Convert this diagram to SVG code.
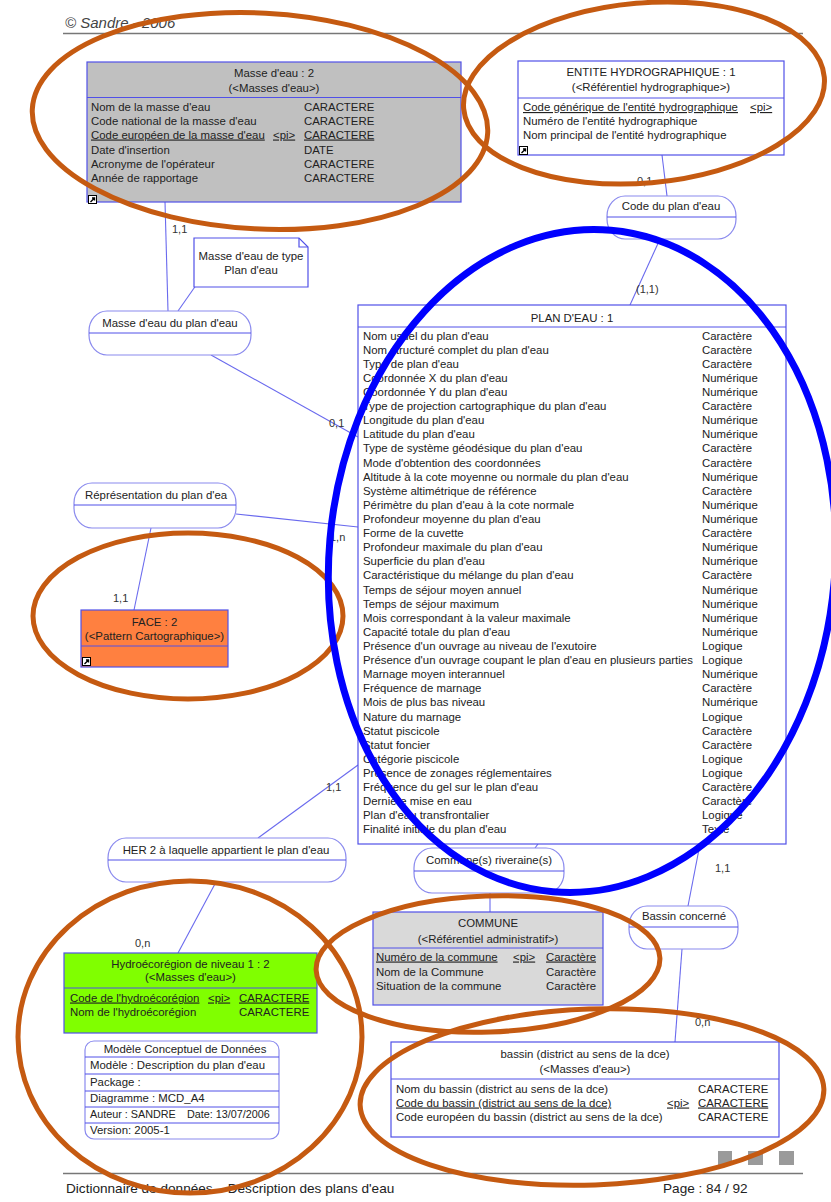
<svg xmlns="http://www.w3.org/2000/svg" width="831" height="1202" viewBox="0 0 831 1202">
<style>
text{font-family:"Liberation Sans",Arial,sans-serif;font-size:11.4px;fill:#222}
.c{text-anchor:middle}
.u{text-decoration:underline}
.ent{stroke:#5050e8;stroke-width:1.2}
.sep{stroke:#5050e8;stroke-width:1}
.asso{fill:#fff;stroke:#8a8aee;stroke-width:1.2}
.link{stroke:#6a6aee;stroke-width:1.1;fill:none}
.card{font-size:11px;fill:#333}
.ring{fill:none;stroke:#c55a11;stroke-width:5}
.blue{fill:none;stroke:#0000ff;stroke-width:7}
.foot{font-size:13.6px}
</style>
<defs>
<symbol id="ico" viewBox="0 0 9 9">
<rect x="0.5" y="0.5" width="8" height="8" fill="#fff" stroke="#000" stroke-width="1"/>
<path d="M2.5 7 L6 3.5 M4 3 H6.5 V5.5" stroke="#000" stroke-width="1.4" fill="none"/>
</symbol>
<clipPath id="clipRep"><rect x="74" y="483" width="155" height="22"/></clipPath>
</defs>
<rect width="831" height="1202" fill="#fff"/>

<g id="header">
<text x="65" y="28" style="font-size:15px;font-style:italic;fill:#444">© Sandre - 2006</text>
<line x1="63" y1="33.5" x2="803" y2="33.5" stroke="#777" stroke-width="1.5"/>
</g>

<g id="connectors">
<line class="link" x1="165" y1="202" x2="168" y2="311"/>
<line class="link" x1="213" y1="261" x2="178" y2="311"/>
<line class="link" x1="211" y1="355" x2="358" y2="437"/>
<line class="link" x1="662" y1="155" x2="667" y2="196"/>
<line class="link" x1="660" y1="239" x2="630" y2="305"/>
<line class="link" x1="236" y1="514" x2="358" y2="527"/>
<line class="link" x1="151" y1="528" x2="134" y2="610"/>
<line class="link" x1="358" y1="765" x2="258" y2="838"/>
<line class="link" x1="216" y1="882" x2="178" y2="953"/>
<line class="link" x1="538" y1="844" x2="535" y2="848"/>
<line class="link" x1="490" y1="893" x2="490" y2="912"/>
<line class="link" x1="700" y1="844" x2="688" y2="906"/>
<line class="link" x1="682" y1="949" x2="675" y2="1042"/>
<text class="card" x="172" y="233">1,1</text>
<text class="card" x="329" y="427">0,1</text>
<text class="card" x="637" y="185">0,1</text>
<text class="card" x="636" y="293">(1,1)</text>
<text class="card" x="330" y="541">1,n</text>
<text class="card" x="113" y="602">1,1</text>
<text class="card" x="326" y="791">1,1</text>
<text class="card" x="135" y="947">0,n</text>
<text class="card" x="715" y="872">1,1</text>
<text class="card" x="695" y="1026">0,n</text>
</g>

<g id="masse-eau">
<rect class="ent" x="87" y="62" width="374" height="140" fill="#c0c0c0"/>
<line class="sep" x1="87" y1="97.5" x2="461" y2="97.5"/>
<text class="c" x="274" y="76.5">Masse d'eau : 2</text>
<text class="c" x="274" y="92">(&lt;Masses d'eau&gt;)</text>
<text x="91" y="110.5">Nom de la masse d'eau</text><text x="304" y="110.5">CARACTERE</text>
<text x="91" y="124.5">Code national de la masse d'eau</text><text x="304" y="124.5">CARACTERE</text>
<text x="91" y="138.5" class="u">Code européen de la masse d'eau</text><text x="273" y="138.5" class="u">&lt;pi&gt;</text><text x="304" y="138.5" class="u">CARACTERE</text>
<text x="91" y="154">Date d'insertion</text><text x="304" y="154">DATE</text>
<text x="91" y="167.5">Acronyme de l'opérateur</text><text x="304" y="167.5">CARACTERE</text>
<text x="91" y="181.5">Année de rapportage</text><text x="304" y="181.5">CARACTERE</text>
<use href="#ico" x="88" y="195" width="9" height="9"/>
</g>

<g id="entite-hydro">
<rect class="ent" x="518" y="61" width="266" height="94" fill="#fff"/>
<line class="sep" x1="518" y1="98" x2="784" y2="98"/>
<text class="c" x="651" y="75.5">ENTITE HYDROGRAPHIQUE : 1</text>
<text class="c" x="651" y="91">(&lt;Référentiel hydrographique&gt;)</text>
<text x="523" y="111" class="u">Code générique de l'entité hydrographique</text><text x="750" y="111" class="u">&lt;pi&gt;</text>
<text x="523" y="125">Numéro de l'entité hydrographique</text>
<text x="523" y="139">Nom principal de l'entité hydrographique</text>
<use href="#ico" x="519" y="146" width="9" height="9"/>
</g>

<g id="note-masse">
<path d="M194 238 H299 L308 247 V287 H194 Z" fill="#fff" stroke="#5050e8" stroke-width="1.2"/>
<path d="M299 238 V247 H308" fill="none" stroke="#5050e8" stroke-width="1.2"/>
<text class="c" x="251" y="260">Masse d'eau de type</text>
<text class="c" x="251" y="274">Plan d'eau</text>
</g>

<g id="asso-masse-plan">
<rect class="asso" x="89" y="311" width="162" height="44" rx="18" ry="20"/>
<line class="sep" x1="89" y1="333" x2="251" y2="333" stroke="#8a8aee"/>
<text class="c" x="170" y="326.5">Masse d'eau du plan d'eau</text>
</g>

<g id="asso-code-plan">
<rect class="asso" x="607" y="196" width="129" height="43" rx="18" ry="20"/>
<line class="sep" x1="607" y1="217" x2="736" y2="217" stroke="#8a8aee"/>
<text class="c" x="671" y="210">Code du plan d'eau</text>
</g>

<g id="plan-eau">
<rect class="ent" x="358" y="305" width="428" height="539" fill="#fff"/>
<line class="sep" x1="358" y1="327" x2="786" y2="327"/>
<text class="c" x="572" y="322">PLAN D'EAU : 1</text>
<g>
<text x="363" y="339.5">Nom usuel du plan d'eau</text><text x="702" y="339.5">Caractère</text>
<text x="363" y="353.6">Nom structuré complet du plan d'eau</text><text x="702" y="353.6">Caractère</text>
<text x="363" y="367.7">Type de plan d'eau</text><text x="702" y="367.7">Caractère</text>
<text x="363" y="381.8">Coordonnée X du plan d'eau</text><text x="702" y="381.8">Numérique</text>
<text x="363" y="395.9">Coordonnée Y du plan d'eau</text><text x="702" y="395.9">Numérique</text>
<text x="363" y="410.1">Type de projection cartographique du plan d'eau</text><text x="702" y="410.1">Caractère</text>
<text x="363" y="424.2">Longitude du plan d'eau</text><text x="702" y="424.2">Numérique</text>
<text x="363" y="438.3">Latitude du plan d'eau</text><text x="702" y="438.3">Numérique</text>
<text x="363" y="452.4">Type de système géodésique du plan d'eau</text><text x="702" y="452.4">Caractère</text>
<text x="363" y="466.5">Mode d'obtention des coordonnées</text><text x="702" y="466.5">Caractère</text>
<text x="363" y="480.6">Altitude à la cote moyenne ou normale du plan d'eau</text><text x="702" y="480.6">Numérique</text>
<text x="363" y="494.7">Système altimétrique de référence</text><text x="702" y="494.7">Caractère</text>
<text x="363" y="508.8">Périmètre du plan d'eau à la cote normale</text><text x="702" y="508.8">Numérique</text>
<text x="363" y="522.9">Profondeur moyenne du plan d'eau</text><text x="702" y="522.9">Numérique</text>
<text x="363" y="537">Forme de la cuvette</text><text x="702" y="537">Caractère</text>
<text x="363" y="551.1">Profondeur maximale du plan d'eau</text><text x="702" y="551.1">Numérique</text>
<text x="363" y="565.3">Superficie du plan d'eau</text><text x="702" y="565.3">Numérique</text>
<text x="363" y="579.4">Caractéristique du mélange du plan d'eau</text><text x="702" y="579.4">Caractère</text>
<text x="363" y="593.5">Temps de séjour moyen annuel</text><text x="702" y="593.5">Numérique</text>
<text x="363" y="607.6">Temps de séjour maximum</text><text x="702" y="607.6">Numérique</text>
<text x="363" y="621.7">Mois correspondant à la valeur maximale</text><text x="702" y="621.7">Numérique</text>
<text x="363" y="635.8">Capacité totale du plan d'eau</text><text x="702" y="635.8">Numérique</text>
<text x="363" y="649.9">Présence d'un ouvrage au niveau de l'exutoire</text><text x="702" y="649.9">Logique</text>
<text x="363" y="664">Présence d'un ouvrage coupant le plan d'eau en plusieurs parties</text><text x="702" y="664">Logique</text>
<text x="363" y="678.1">Marnage moyen interannuel</text><text x="702" y="678.1">Numérique</text>
<text x="363" y="692.2">Fréquence de marnage</text><text x="702" y="692.2">Caractère</text>
<text x="363" y="706.4">Mois de plus bas niveau</text><text x="702" y="706.4">Numérique</text>
<text x="363" y="720.5">Nature du marnage</text><text x="702" y="720.5">Logique</text>
<text x="363" y="734.6">Statut piscicole</text><text x="702" y="734.6">Caractère</text>
<text x="363" y="748.7">Statut foncier</text><text x="702" y="748.7">Caractère</text>
<text x="363" y="762.8">Catégorie piscicole</text><text x="702" y="762.8">Logique</text>
<text x="363" y="776.9">Présence de zonages réglementaires</text><text x="702" y="776.9">Logique</text>
<text x="363" y="791">Fréquence du gel sur le plan d'eau</text><text x="702" y="791">Caractère</text>
<text x="363" y="805.1">Dernière mise en eau</text><text x="702" y="805.1">Caractère</text>
<text x="363" y="819.2">Plan d'eau transfrontalier</text><text x="702" y="819.2">Logique</text>
<text x="363" y="833.3">Finalité initiale du plan d'eau</text><text x="702" y="833.3">Texte</text>
</g>
</g>

<g id="asso-representation">
<rect class="asso" x="74" y="483" width="162" height="45" rx="18" ry="20"/>
<line class="sep" x1="74" y1="505" x2="236" y2="505" stroke="#8a8aee"/>
<text x="85" y="498.5" clip-path="url(#clipRep)">Réprésentation du plan d'ea</text>
</g>

<g id="face">
<rect class="ent" x="81" y="610" width="147" height="57" fill="#ff8040"/>
<line class="sep" x1="81" y1="646" x2="228" y2="646"/>
<text class="c" x="154.5" y="625.5">FACE : 2</text>
<text class="c" x="154.5" y="639.5">(&lt;Pattern Cartographique&gt;)</text>
<use href="#ico" x="82" y="657" width="9" height="9"/>
</g>

<g id="asso-her">
<rect class="asso" x="108" y="838" width="238" height="44" rx="18" ry="20"/>
<line class="sep" x1="108" y1="860" x2="346" y2="860" stroke="#8a8aee"/>
<text class="c" x="226" y="853.5">HER 2 à laquelle appartient le plan d'eau</text>
</g>

<g id="hydroecoregion">
<rect class="ent" x="64" y="953" width="253" height="80" fill="#80ff00"/>
<line class="sep" x1="64" y1="988" x2="317" y2="988"/>
<text class="c" x="190.5" y="968">Hydroécorégion de niveau 1 : 2</text>
<text class="c" x="190.5" y="981">(&lt;Masses d'eau&gt;)</text>
<text x="70" y="1001.5" class="u">Code de l'hydroécorégion</text><text x="208" y="1001.5" class="u">&lt;pi&gt;</text><text x="239" y="1001.5" class="u">CARACTERE</text>
<text x="70" y="1016">Nom de l'hydroécorégion</text><text x="239" y="1016">CARACTERE</text>
</g>

<g id="mcd-info">
<rect x="85" y="1041" width="194" height="98" rx="9" ry="9" fill="#fff" stroke="#8a8aee" stroke-width="1.2"/>
<line class="sep" x1="85" y1="1057" x2="279" y2="1057"/>
<line class="sep" x1="85" y1="1074" x2="279" y2="1074"/>
<line class="sep" x1="85" y1="1091" x2="279" y2="1091"/>
<line class="sep" x1="85" y1="1107" x2="279" y2="1107"/>
<line class="sep" x1="85" y1="1123" x2="279" y2="1123"/>
<text class="c" x="185" y="1053">Modèle Conceptuel de Données</text>
<text x="90" y="1068.5">Modèle : Description du plan d'eau</text>
<text x="90" y="1085.5">Package :</text>
<text x="90" y="1101.5">Diagramme : MCD_A4</text>
<text x="90" y="1117.5" style="font-size:10.8px">Auteur : SANDRE<tspan x="187">Date: 13/07/2006</tspan></text>
<text x="90" y="1133.5">Version: 2005-1</text>
</g>

<g id="asso-communes">
<rect class="asso" x="414" y="848" width="150" height="45" rx="18" ry="20"/>
<line class="sep" x1="414" y1="871" x2="564" y2="871" stroke="#8a8aee"/>
<text class="c" x="489" y="863.5">Commune(s) riveraine(s)</text>
</g>

<g id="commune">
<rect class="ent" x="373" y="912" width="230" height="93" fill="#d9d9d9"/>
<line class="sep" x1="373" y1="948" x2="603" y2="948"/>
<text class="c" x="488" y="926.5">COMMUNE</text>
<text class="c" x="488" y="942.5">(&lt;Référentiel administratif&gt;)</text>
<text x="376" y="960.5" class="u">Numéro de la commune</text><text x="513" y="960.5" class="u">&lt;pi&gt;</text><text x="546" y="960.5" class="u">Caractère</text>
<text x="376" y="976">Nom de la Commune</text><text x="546" y="976">Caractère</text>
<text x="376" y="989.5">Situation de la commune</text><text x="546" y="989.5">Caractère</text>
</g>

<g id="asso-bassin">
<rect class="asso" x="629" y="906" width="109" height="43" rx="18" ry="20"/>
<line class="sep" x1="629" y1="927" x2="738" y2="927" stroke="#8a8aee"/>
<text class="c" x="684" y="920">Bassin concerné</text>
</g>

<g id="bassin">
<rect class="ent" x="391" y="1042" width="388" height="95" fill="#fff"/>
<line class="sep" x1="391" y1="1079" x2="779" y2="1079"/>
<text class="c" x="585" y="1057.5">bassin (district au sens de la dce)</text>
<text class="c" x="585" y="1072.5">(&lt;Masses d'eau&gt;)</text>
<text x="396" y="1092.5">Nom du bassin (district au sens de la dce)</text><text x="698" y="1092.5">CARACTERE</text>
<text x="396" y="1106.5" class="u">Code du bassin (district au sens de la dce)</text><text x="667" y="1106.5" class="u">&lt;pi&gt;</text><text x="698" y="1106.5" class="u">CARACTERE</text>
<text x="396" y="1121">Code européen du bassin (district au sens de la dce)</text><text x="698" y="1121">CARACTERE</text>
</g>

<g id="footer">
<rect x="718" y="1151" width="14" height="14" fill="#9a9a9a"/>
<rect x="748" y="1151" width="15" height="14" fill="#9a9a9a"/>
<rect x="779" y="1151" width="15" height="14" fill="#9a9a9a"/>
<line x1="63" y1="1173.5" x2="803" y2="1173.5" stroke="#777" stroke-width="1.5"/>
<text x="66" y="1193" class="foot">Dictionnaire de données – Description des plans d'eau</text>
<text x="663" y="1193" class="foot">Page : 84 / 92</text>
</g>

<g id="annotations">
<ellipse class="ring" cx="260" cy="121" rx="228" ry="108" transform="rotate(3 260 121)"/>
<ellipse class="ring" cx="644" cy="93" rx="181" ry="90" transform="rotate(-5 644 93)"/>
<ellipse class="ring" cx="188" cy="616" rx="155" ry="83"/>
<ellipse class="ring" cx="190" cy="1037" rx="172" ry="156"/>
<ellipse class="ring" cx="488" cy="964" rx="172" ry="68" transform="rotate(-2 488 964)"/>
<ellipse class="ring" cx="592" cy="1097" rx="232" ry="88" transform="rotate(-2 592 1097)"/>
<ellipse class="blue" cx="582" cy="561" rx="253" ry="332" transform="rotate(5 582 561)"/>
</g>
</svg>
